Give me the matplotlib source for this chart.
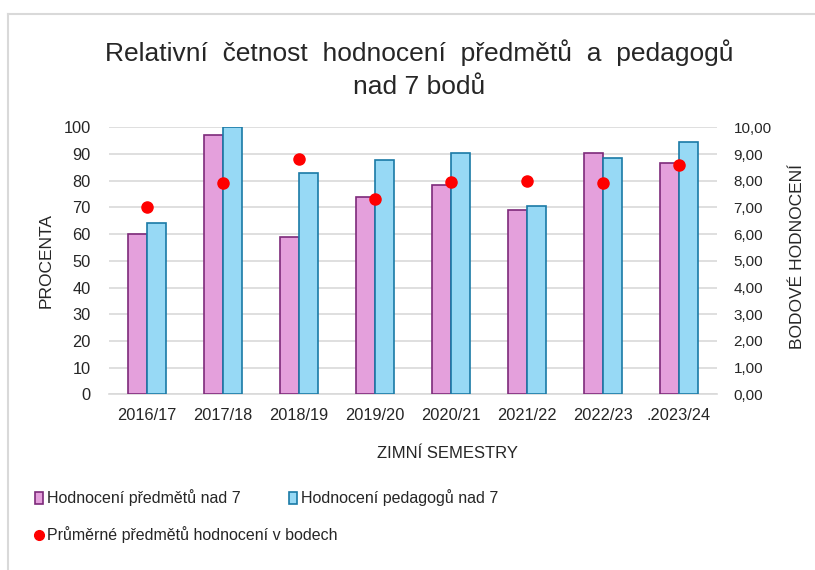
import matplotlib
matplotlib.use("Agg")
import matplotlib.pyplot as plt
from matplotlib.patches import Patch
from matplotlib.lines import Line2D
from matplotlib.ticker import FuncFormatter
import numpy as np

semestry = ["2016/17", "2017/18", "2018/19", "2019/20", "2020/21", "2021/22", "2022/23", ".2023/24"]
predmety = [60, 97, 59, 74, 78.5, 69, 90.5, 86.5]
pedagogove = [64, 100, 83, 87.8, 90.5, 70.5, 88.5, 94.5]
body = [7.0, 7.9, 8.8, 7.3, 7.95, 7.98, 7.9, 8.57]

PINK = "#e4a0dc"
PINK_EDGE = "#7d2a7a"
BLUE = "#97d9f5"
BLUE_EDGE = "#1a7aa6"
GRID = "#d9d9d9"
TXT = "#262626"

plt.rcParams["font.family"] = ["Liberation Sans", "DejaVu Sans"]

fig = plt.figure(figsize=(8.15, 5.7), dpi=100)
ax = fig.add_axes([109 / 815, 1 - 394.3 / 570, 608 / 815, 267 / 570])

x = np.arange(len(semestry))
w = 0.25
ax.bar(x - w / 2, predmety, w, color=PINK, edgecolor=PINK_EDGE, linewidth=1.2, zorder=3)
ax.bar(x + w / 2, pedagogove, w, color=BLUE, edgecolor=BLUE_EDGE, linewidth=1.2, zorder=3)

ax.set_xlim(-0.5, len(semestry) - 0.5)
ax.set_ylim(0, 100)
ax.set_yticks(range(0, 101, 10))
ax.set_xticks(x)
ax.set_xticklabels(semestry)
ax.grid(axis="y", color=GRID, linewidth=1.2, zorder=0)
for s in ["top", "right", "left"]:
    ax.spines[s].set_visible(False)
ax.spines["bottom"].set_color(GRID)
ax.spines["bottom"].set_linewidth(1.2)
ax.tick_params(length=0, labelsize=11.8, colors=TXT)
ax.tick_params(axis="y", pad=13)
ax.tick_params(axis="x", pad=10)

ax2 = ax.twinx()
ax2.set_ylim(0, 10)
ax2.set_yticks(range(0, 11))
ax2.yaxis.set_major_formatter(FuncFormatter(lambda v, p: f"{v:.2f}".replace(".", ",")))
ax2.plot(x, body, "o", color="#ff0000", markersize=8, zorder=5, linestyle="none")
for s in ax2.spines.values():
    s.set_visible(False)
ax2.tick_params(length=0, labelsize=11, colors=TXT, pad=12)

fig.text(46 / 815, 1 - 260 / 570, "PROCENTA", rotation=90, ha="center", va="center",
         fontsize=12.5, color=TXT)
fig.text(797 / 815, 1 - 256 / 570, "BODOVÉ HODNOCENÍ", rotation=90, ha="center", va="center",
         fontsize=12.5, color=TXT)
fig.text(447 / 815, 1 - 453 / 570, "ZIMNÍ SEMESTRY", ha="center", va="center",
         fontsize=12, color=TXT)

fig.text(419 / 815, 1 - 69 / 570, "Relativní  četnost  hodnocení  předmětů  a  pedagogů\nnad 7 bodů",
         ha="center", va="center", fontsize=19, color=TXT, linespacing=1.45)

leg_kw = dict(frameon=False, loc="upper left", prop={"size": 11.5},
              handlelength=0.45, handleheight=0.75, handletextpad=0.25,
              labelspacing=1.25, labelcolor=TXT)
h_pred = Patch(facecolor=PINK, edgecolor=PINK_EDGE, linewidth=1.2)
h_ped = Patch(facecolor=BLUE, edgecolor=BLUE_EDGE, linewidth=1.2)
h_body = Line2D([], [], marker="o", color="#ff0000", linestyle="none", markersize=7)
fig.legend([h_pred, h_body],
           ["Hodnocení předmětů nad 7", "Průměrné předmětů hodnocení v bodech"],
           bbox_to_anchor=(21 / 815, 1 - 475 / 570), **leg_kw)
fig.legend([h_ped], ["Hodnocení pedagogů nad 7"],
           bbox_to_anchor=(275 / 815, 1 - 475 / 570), **leg_kw)

# chart area border (top and left edges visible)
fig.add_artist(Line2D([8 / 815, 1.0], [1 - 14 / 570] * 2, color=GRID, linewidth=1.5, transform=fig.transFigure))
fig.add_artist(Line2D([8 / 815] * 2, [0.0, 1 - 14 / 570], color=GRID, linewidth=1.5, transform=fig.transFigure))

fig.savefig("out.png", dpi=100)
